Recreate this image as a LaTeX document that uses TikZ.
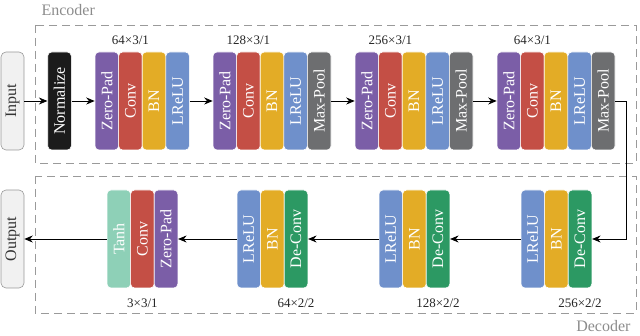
\documentclass[tikz,border=0pt]{standalone}
\usepackage{fontspec}
\setmainfont{Liberation Serif}
\usetikzlibrary{arrows.meta}
\definecolor{cpad}{HTML}{7B5EA7}
\definecolor{cconv}{HTML}{C44F45}
\definecolor{cbn}{HTML}{E3AC26}
\definecolor{crelu}{HTML}{6F90CB}
\definecolor{cpool}{HTML}{6D6E70}
\definecolor{cdec}{HTML}{2C9963}
\definecolor{ctanh}{HTML}{8ED0B7}
\definecolor{cnorm}{HTML}{1B1B1B}
\definecolor{cio}{HTML}{F1F1F1}
\definecolor{cdash}{HTML}{9A9A9A}
\begin{document}
\begin{tikzpicture}[x=1pt,y=-1pt,
  blk/.style={draw=white,line width=0.6pt,rounded corners=4pt,minimum width=23.6pt,minimum height=98pt,inner sep=0pt,text=white,font=\fontsize{16}{16}\selectfont},
  iobox/.style={draw=gray!80,line width=0.6pt,fill=cio,rounded corners=5pt,minimum width=23pt,minimum height=98pt,inner sep=0pt,text=black!80,font=\fontsize{16}{16}\selectfont},
  lab/.style={font=\fontsize{13}{13}\selectfont,text=black!85},
  grp/.style={draw=cdash,dash pattern=on 8pt off 5pt,line width=0.8pt},
  ttl/.style={font=\fontsize{16}{16}\selectfont,text=gray!90},
  arr/.style={-{Stealth[length=8.5pt,width=7pt]},line width=0.8pt,black}]
\useasboundingbox (0,0) rectangle (640,336);
% group frames
\draw[grp] (35,25) rectangle (636,163);
\draw[grp] (35,176) rectangle (636,313);
\node[ttl,anchor=west] (enc) at (38,10) {Encoder};
\node[ttl,anchor=east] (dec) at (634,326) {Decoder};
% input / normalize
\node[iobox] (in) at (12.5,101) {\rotatebox{90}{Input}};
\node[blk,fill=cnorm] (norm) at (59.5,101) {\rotatebox{90}{Normalize}};
% encoder group 1
\node[blk,fill=cpad] (a1) at (106.8,101) {\rotatebox{90}{Zero-Pad}};
\node[blk,fill=cconv] (a2) at (130.4,101) {\rotatebox{90}{Conv}};
\node[blk,fill=cbn] (a3) at (154.0,101) {\rotatebox{90}{BN}};
\node[blk,fill=crelu] (a4) at (177.6,101) {\rotatebox{90}{LReLU}};
\node[lab] (la) at (130.4,40) {64×3/1};
% encoder group 2
\node[blk,fill=cpad] (b1) at (224.8,101) {\rotatebox{90}{Zero-Pad}};
\node[blk,fill=cconv] (b2) at (248.4,101) {\rotatebox{90}{Conv}};
\node[blk,fill=cbn] (b3) at (272.0,101) {\rotatebox{90}{BN}};
\node[blk,fill=crelu] (b4) at (295.6,101) {\rotatebox{90}{LReLU}};
\node[blk,fill=cpool] (b5) at (319.2,101) {\rotatebox{90}{Max-Pool}};
\node[lab] (lb) at (248.4,40) {128×3/1};
% encoder group 3
\node[blk,fill=cpad] (c1) at (366.8,101) {\rotatebox{90}{Zero-Pad}};
\node[blk,fill=cconv] (c2) at (390.4,101) {\rotatebox{90}{Conv}};
\node[blk,fill=cbn] (c3) at (414.0,101) {\rotatebox{90}{BN}};
\node[blk,fill=crelu] (c4) at (437.6,101) {\rotatebox{90}{LReLU}};
\node[blk,fill=cpool] (c5) at (461.2,101) {\rotatebox{90}{Max-Pool}};
\node[lab] (lc) at (390.4,40) {256×3/1};
% encoder group 4
\node[blk,fill=cpad] (d1) at (508.8,101) {\rotatebox{90}{Zero-Pad}};
\node[blk,fill=cconv] (d2) at (532.4,101) {\rotatebox{90}{Conv}};
\node[blk,fill=cbn] (d3) at (556.0,101) {\rotatebox{90}{BN}};
\node[blk,fill=crelu] (d4) at (579.6,101) {\rotatebox{90}{LReLU}};
\node[blk,fill=cpool] (d5) at (603.2,101) {\rotatebox{90}{Max-Pool}};
\node[lab] (ld) at (532.4,40) {64×3/1};
% decoder group 1 (right)
\node[blk,fill=crelu] (e1) at (532.8,239) {\rotatebox{90}{LReLU}};
\node[blk,fill=cbn] (e2) at (556.4,239) {\rotatebox{90}{BN}};
\node[blk,fill=cdec] (e3) at (580.0,239) {\rotatebox{90}{De-Conv}};
\node[lab] (le) at (580.0,303) {256×2/2};
% decoder group 2
\node[blk,fill=crelu] (f1) at (390.8,239) {\rotatebox{90}{LReLU}};
\node[blk,fill=cbn] (f2) at (414.4,239) {\rotatebox{90}{BN}};
\node[blk,fill=cdec] (f3) at (438.0,239) {\rotatebox{90}{De-Conv}};
\node[lab] (lf) at (438.0,303) {128×2/2};
% decoder group 3
\node[blk,fill=crelu] (g1) at (248.8,239) {\rotatebox{90}{LReLU}};
\node[blk,fill=cbn] (g2) at (272.4,239) {\rotatebox{90}{BN}};
\node[blk,fill=cdec] (g3) at (296.0,239) {\rotatebox{90}{De-Conv}};
\node[lab] (lg) at (296.0,303) {64×2/2};
% decoder group 4
\node[blk,fill=ctanh] (h1) at (118.8,239) {\rotatebox{90}{Tanh}};
\node[blk,fill=cconv] (h2) at (142.4,239) {\rotatebox{90}{Conv}};
\node[blk,fill=cpad] (h3) at (166.0,239) {\rotatebox{90}{Zero-Pad}};
\node[lab] (lh) at (142.4,303) {3×3/1};
% output
\node[iobox] (out) at (12.5,239) {\rotatebox{90}{Output}};
% connectors
\draw[arr] (in.east) -- (norm.west);
\draw[arr] (norm.east) -- (a1.west);
\draw[arr] (a4.east) -- (b1.west);
\draw[arr] (b5.east) -- (c1.west);
\draw[arr] (c5.east) -- (d1.west);
\coordinate (t1) at (626,101);
\coordinate (t2) at (626,239);
\draw[arr] (d5.east) -- (t1) -- (t2) -- (e3.east);
\draw[arr] (e1.west) -- (f3.east);
\draw[arr] (f1.west) -- (g3.east);
\draw[arr] (g1.west) -- (h3.east);
\draw[arr] (h1.west) -- (out.east);
\end{tikzpicture}
\end{document}
